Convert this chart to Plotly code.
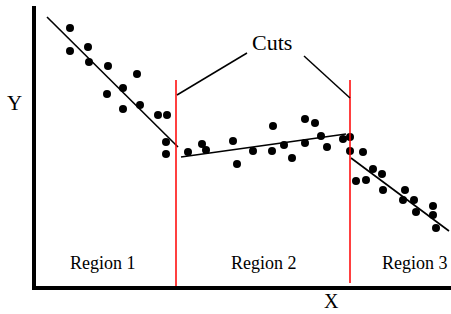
import plotly.graph_objects as go

region1_x = [70, 70, 88, 89, 108, 107, 123, 123, 137, 140, 158, 167, 166, 166]
region1_y = [28, 51, 47, 62, 66, 94, 88, 109, 74, 105, 115, 115, 142, 154]
region2_x = [188, 202, 206, 233, 237, 253, 272, 273, 284, 292, 305, 305, 315, 321, 327, 343, 350]
region2_y = [152, 144, 150, 141, 164, 151, 151, 126, 145, 158, 143, 119, 123, 136, 147, 139, 137]
region3_x = [350, 363, 356, 366, 373, 382, 383, 405, 403, 414, 416, 433, 433, 436]
region3_y = [151, 152, 181, 180, 169, 174, 190, 190, 200, 200, 212, 206, 215, 228]

fit1_x = [47, 178]
fit1_y = [17, 147]
fit2_x = [181, 346]
fit2_y = [157, 134]
fit3_x = [351, 449]
fit3_y = [158, 231]

cut_x = [176, 350]
cut_top = [80, 80]
cut_bottom = [287, 283]

region_labels = ["Region 1", "Region 2", "Region 3"]
region_label_x = [103, 264, 415]

leader_start = [(247, 53), (304, 56)]
leader_end = [(177, 95), (350, 98)]

FONT = "Liberation Serif"

fig = go.Figure()

pts_x = region1_x + region2_x + region3_x
pts_y = region1_y + region2_y + region3_y
fig.add_trace(go.Scatter(x=pts_x, y=pts_y, mode="markers",
                         marker=dict(color="black", size=8), cliponaxis=False))

for fx, fy in [(fit1_x, fit1_y), (fit2_x, fit2_y), (fit3_x, fit3_y)]:
    fig.add_trace(go.Scatter(x=fx, y=fy, mode="lines",
                             line=dict(color="black", width=1.6), cliponaxis=False))

shapes = []
for cx, ct, cb in zip(cut_x, cut_top, cut_bottom):
    shapes.append(dict(type="line", x0=cx, x1=cx, y0=ct, y1=cb,
                       line=dict(color="#ff0000", width=1.5)))
for (sx, sy), (ex, ey) in zip(leader_start, leader_end):
    shapes.append(dict(type="line", x0=sx, y0=sy, x1=ex, y1=ey,
                       line=dict(color="black", width=1.5)))
# axes
shapes.append(dict(type="line", x0=34, x1=34, y0=6, y1=290, line=dict(color="black", width=4)))
shapes.append(dict(type="line", x0=32, x1=451, y0=288, y1=288, line=dict(color="black", width=4)))

annotations = [
    dict(x=272, y=42, text="Cuts", showarrow=False, font=dict(family=FONT, size=22, color="black")),
    dict(x=14, y=103, text="Y", showarrow=False, font=dict(family=FONT, size=21, color="black")),
    dict(x=331, y=301, text="X", showarrow=False, font=dict(family=FONT, size=20, color="black")),
]
for lbl, lx in zip(region_labels, region_label_x):
    annotations.append(dict(x=lx, y=263, text=lbl, showarrow=False,
                            font=dict(family=FONT, size=18, color="black")))

fig.update_layout(
    width=451, height=314,
    margin=dict(l=0, r=0, t=0, b=0),
    paper_bgcolor="white", plot_bgcolor="white",
    showlegend=False,
    xaxis=dict(range=[0, 451], visible=False, fixedrange=True),
    yaxis=dict(range=[314, 0], visible=False, fixedrange=True),
    shapes=shapes,
    annotations=annotations,
)

fig.write_html("out.html", config={"displayModeBar": False},
               post_script="document.body.style.margin='0';document.body.style.overflow='hidden';")
